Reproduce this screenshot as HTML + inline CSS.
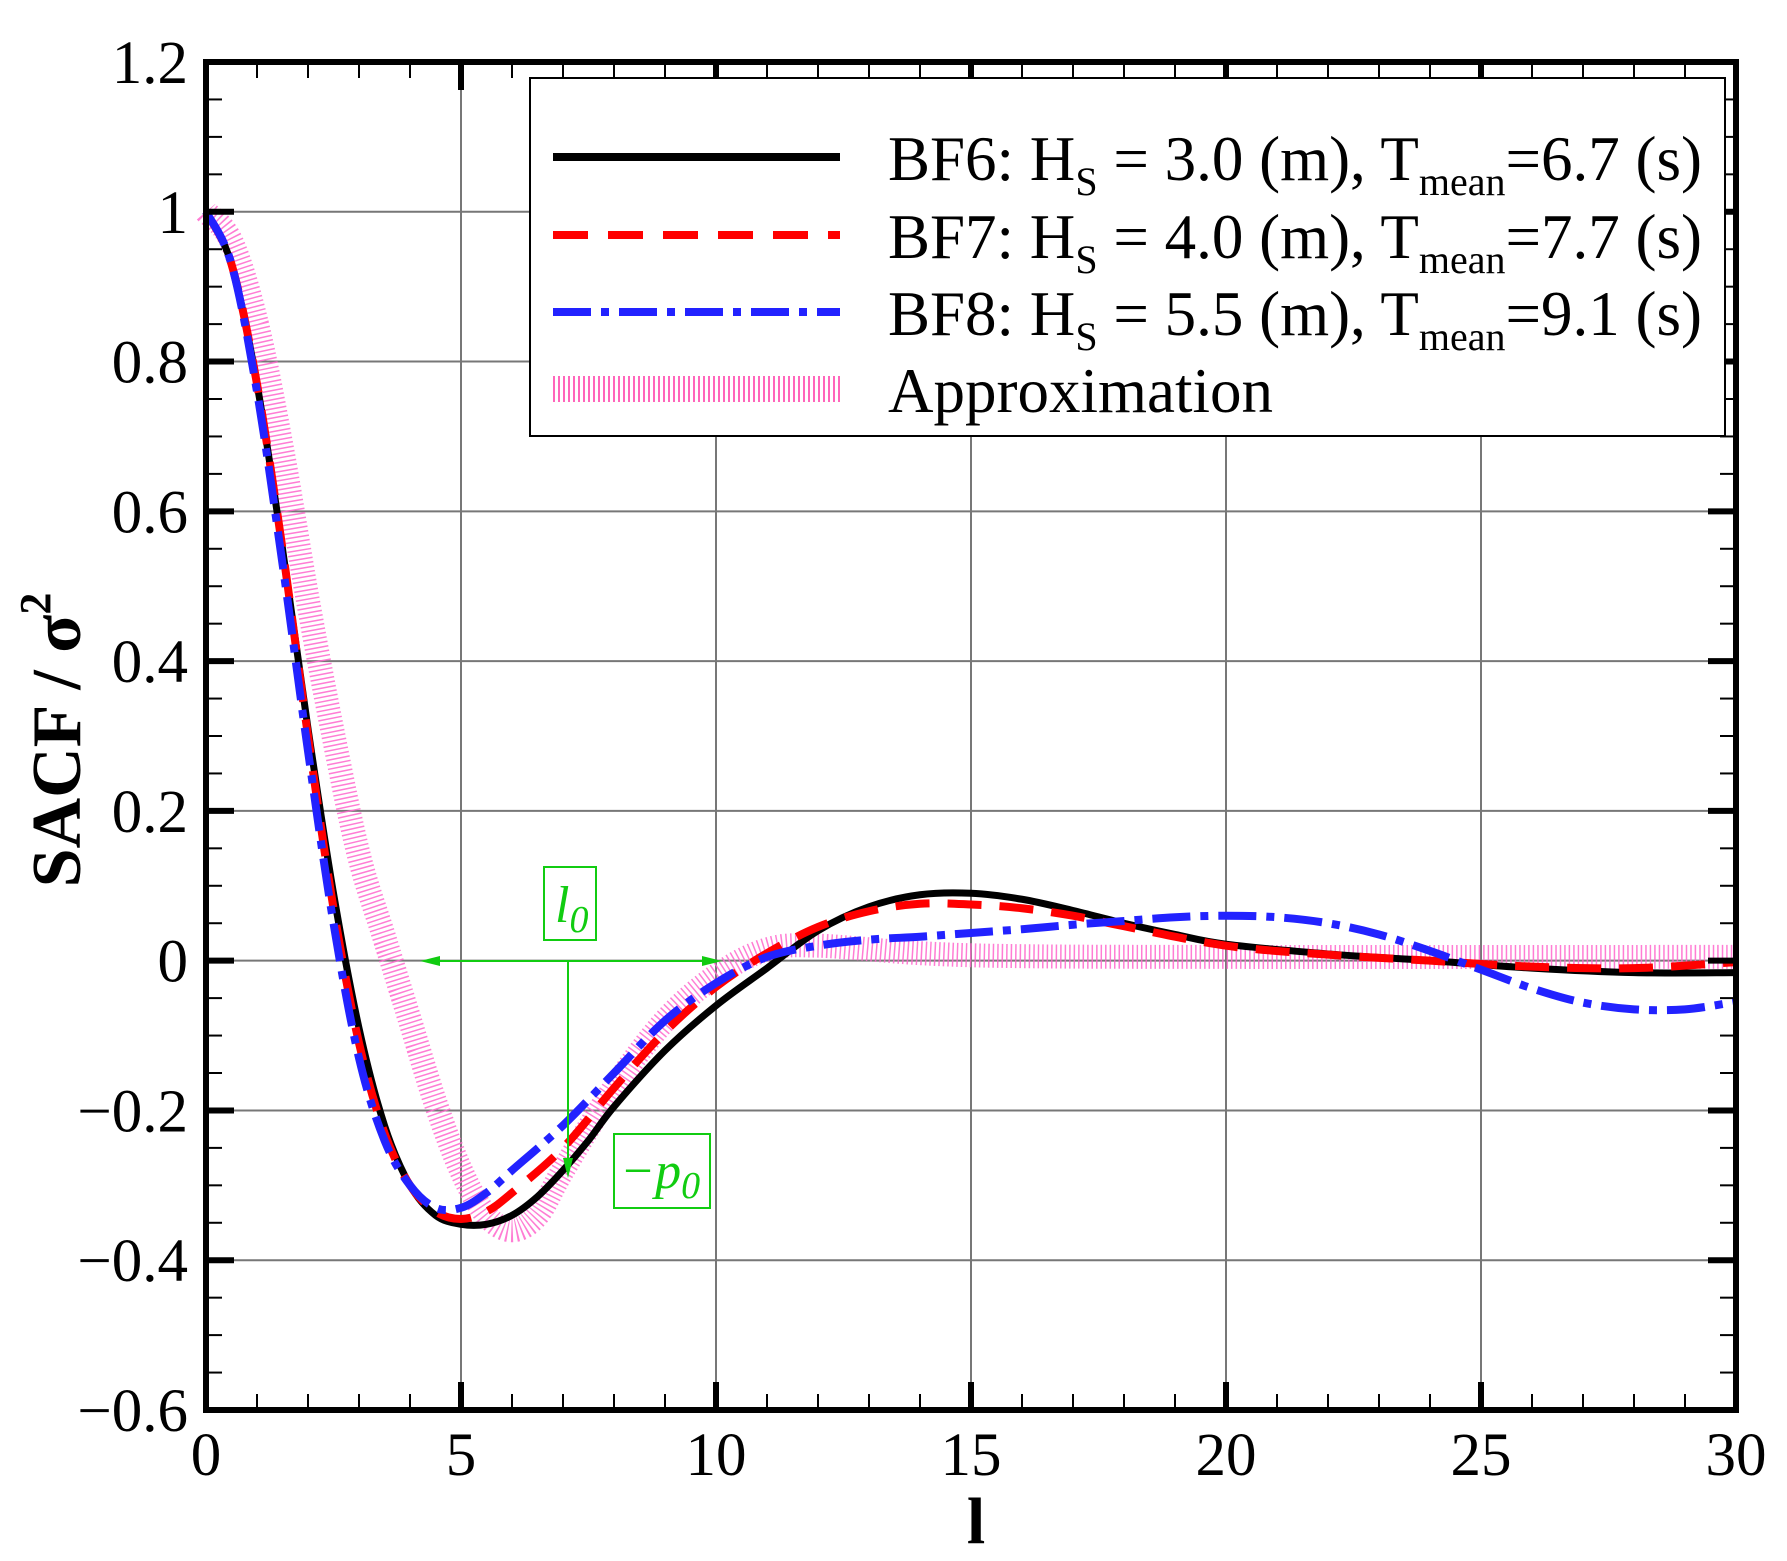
<!DOCTYPE html>
<html><head><meta charset="utf-8"><style>
html,body{margin:0;padding:0;background:#fff}
svg{display:block}
text{font-family:"Liberation Serif",serif}
</style></head><body>
<svg id="s" width="1787" height="1561" viewBox="0 0 1787 1561" xmlns="http://www.w3.org/2000/svg">
<g id="grid" stroke="#777" stroke-width="2"></g>
<g id="curves"></g>
<g id="axes"></g>
<g id="labels" font-size="61" fill="#000"></g>
<text x="0" y="0" transform="translate(80,740) rotate(-90)" text-anchor="middle" font-size="70" font-weight="bold">SACF / σ<tspan dy="-30" font-size="44">2</tspan></text>
<text x="976" y="1543" text-anchor="middle" font-size="66" font-weight="bold">l</text>
<!-- legend -->
<rect x="530" y="78" width="1195" height="358" fill="#fff" stroke="#000" stroke-width="2"/>
<line x1="553" y1="157" x2="840" y2="157" stroke="#000" stroke-width="8"/>
<line x1="553" y1="235" x2="840" y2="235" stroke="#f00" stroke-width="8" stroke-dasharray="35 20"/>
<line x1="553" y1="312" x2="840" y2="312" stroke="#22f" stroke-width="8" stroke-dasharray="38 10 8 10"/>
<line x1="553" y1="389" x2="840" y2="389" stroke="#f6b" stroke-width="26" stroke-dasharray="2 3"/>
<g font-size="63">
<text x="888" y="180">BF6: H<tspan dy="15" font-size="40">S</tspan><tspan dy="-15"> = 3.0 (m), T</tspan><tspan dy="15" font-size="40">mean</tspan><tspan dy="-15">=6.7 (s)</tspan></text>
<text x="888" y="258">BF7: H<tspan dy="15" font-size="40">S</tspan><tspan dy="-15"> = 4.0 (m), T</tspan><tspan dy="15" font-size="40">mean</tspan><tspan dy="-15">=7.7 (s)</tspan></text>
<text x="888" y="335">BF8: H<tspan dy="15" font-size="40">S</tspan><tspan dy="-15"> = 5.5 (m), T</tspan><tspan dy="15" font-size="40">mean</tspan><tspan dy="-15">=9.1 (s)</tspan></text>
<text x="888" y="412">Approximation</text>
</g>
<!-- green annotations -->
<g stroke="#1c1" stroke-width="2" fill="none">
<line x1="425" y1="961" x2="718" y2="961"/>
<line x1="568" y1="961" x2="568" y2="1170"/>
<rect x="544" y="867" width="52" height="73"/>
<rect x="614" y="1134" width="96" height="74"/>
</g>
<g fill="#1c1">
<polygon points="420,961 440,956 440,966"/>
<polygon points="722,961 702,956 702,966"/>
<polygon points="568,1178 563,1158 573,1158"/>
<text x="555" y="922" font-size="52" font-style="italic">l<tspan dy="10" font-size="38">0</tspan></text>
<text x="620" y="1188" font-size="52" font-style="italic">−p<tspan dy="10" font-size="38">0</tspan></text>
</g>
</svg>
<script>
const L=206,R=1736,T=62,B=1410;
const X=l=>L+l*(R-L)/30, Y=v=>T+(1.2-v)*(B-T)/1.8;
const ns="http://www.w3.org/2000/svg";
function el(p,tag,a){const e=document.createElementNS(ns,tag);for(const k in a)e.setAttribute(k,a[k]);document.getElementById(p).appendChild(e);return e;}
for(let l=5;l<30;l+=5)el("grid","line",{x1:X(l),y1:T,x2:X(l),y2:B});
for(let i=1;i<9;i++){let v=1.2-i*0.2;el("grid","line",{x1:L,y1:Y(v),x2:R,y2:Y(v)});}
el("axes","rect",{x:L,y:T,width:R-L,height:B-T,fill:"none",stroke:"#000","stroke-width":6});
for(let l=0;l<=30;l++){let maj=l%5==0;let len=maj?28:16,w=maj?6:2;
 el("axes","line",{x1:X(l),y1:B,x2:X(l),y2:B-len,stroke:"#000","stroke-width":w});
 el("axes","line",{x1:X(l),y1:T,x2:X(l),y2:T+len,stroke:"#000","stroke-width":w});}
for(let i=0;i<=36;i++){let v=1.2-i*0.05;let maj=i%4==0;let len=maj?28:16,w=maj?6:2;
 el("axes","line",{x1:L,y1:Y(v),x2:L+len,y2:Y(v),stroke:"#000","stroke-width":w});
 el("axes","line",{x1:R,y1:Y(v),x2:R-len,y2:Y(v),stroke:"#000","stroke-width":w});}
const yl=["1.2","1","0.8","0.6","0.4","0.2","0","−0.2","−0.4","−0.6"];
yl.forEach((t,i)=>{const e=el("labels","text",{x:188,y:Y(1.2-i*0.2)+21,"text-anchor":"end"});e.textContent=t;});
[0,5,10,15,20,25,30].forEach(l=>{const e=el("labels","text",{x:X(l),y:1475,"text-anchor":"middle"});e.textContent=l;});
function path(pts){const p=pts.map(([l,v])=>[X(l),Y(v)]);let d="M"+p[0][0]+","+p[0][1];
 for(let i=0;i<p.length-1;i++){const p0=p[i-1]||p[i],p1=p[i],p2=p[i+1],p3=p[i+2]||p2;
  d+=` C${p1[0]+(p2[0]-p0[0])/6},${p1[1]+(p2[1]-p0[1])/6} ${p2[0]-(p3[0]-p1[0])/6},${p2[1]-(p3[1]-p1[1])/6} ${p2[0]},${p2[1]}`;}
 return d;}
const pink=[[0,1],[0.5,0.96],[1,0.85],[1.5,0.68],[2,0.48],[2.5,0.3],[3,0.14],[3.5,0.03],[4,-0.08],[4.5,-0.19],[5,-0.28],[5.5,-0.34],[6,-0.36],[6.5,-0.34],[7,-0.28],[8,-0.17],[9,-0.08],[10,-0.02],[11,0.015],[12,0.02],[14,0.01],[16,0.006],[20,0.005],[30,0.005]];
const black=[[0,1],[0.5,0.93],[1,0.77],[1.5,0.55],[2,0.31],[2.5,0.09],[3,-0.09],[3.5,-0.22],[4,-0.3],[4.5,-0.34],[5,-0.352],[5.5,-0.352],[6,-0.34],[6.5,-0.315],[7,-0.28],[7.5,-0.24],[8,-0.195],[9,-0.12],[10,-0.06],[11,-0.01],[12,0.04],[13,0.072],[14,0.088],[15,0.09],[16,0.082],[17,0.067],[18,0.05],[19,0.035],[20,0.022],[22,0.009],[24,0],[26,-0.01],[28,-0.016],[30,-0.016]];
const red=[[0,1],[0.5,0.93],[1,0.77],[1.5,0.55],[2,0.3],[2.5,0.07],[3,-0.11],[3.5,-0.23],[4,-0.3],[4.5,-0.335],[5,-0.345],[5.5,-0.335],[6,-0.31],[7,-0.25],[8,-0.17],[9,-0.095],[10,-0.035],[11,0.01],[12,0.045],[13,0.066],[14,0.076],[15,0.075],[16,0.07],[17,0.06],[18,0.046],[20,0.02],[22,0.008],[24,0],[26,-0.008],[28,-0.01],[30,-0.002]];
const blue=[[0,1],[0.5,0.93],[1,0.76],[1.5,0.53],[2,0.28],[2.5,0.05],[3,-0.13],[3.5,-0.24],[4,-0.3],[4.5,-0.33],[5,-0.33],[5.5,-0.31],[6,-0.28],[7,-0.22],[8,-0.15],[9,-0.08],[10,-0.03],[11,0.005],[12,0.02],[13,0.028],[14,0.032],[15,0.037],[16,0.042],[17,0.048],[18,0.053],[19,0.058],[20,0.06],[21,0.058],[22,0.05],[23,0.035],[24,0.013],[25,-0.012],[26,-0.037],[27,-0.056],[28,-0.065],[29,-0.065],[30,-0.055]];
el("curves","path",{d:path(pink),fill:"none",stroke:"#f6c","stroke-width":24,"stroke-dasharray":"1.5 3","stroke-opacity":0.85});
el("curves","path",{d:path(black),fill:"none",stroke:"#000","stroke-width":7,"stroke-linejoin":"round"});
el("curves","path",{d:path(red),fill:"none",stroke:"#f00","stroke-width":8,"stroke-dasharray":"34 18"});
el("curves","path",{d:path(blue),fill:"none",stroke:"#22f","stroke-width":8,"stroke-dasharray":"38 10 8 10"});
</script>
</body></html>
